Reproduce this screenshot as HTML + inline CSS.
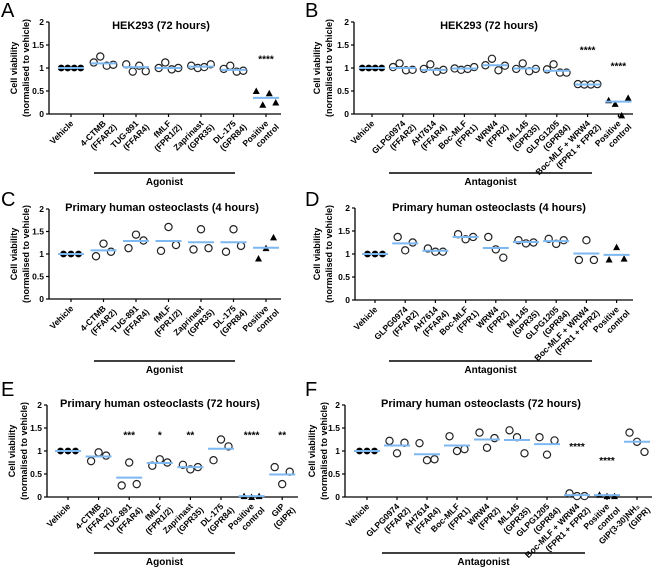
<!DOCTYPE html>
<html><head><meta charset="utf-8"><style>
html,body{margin:0;padding:0;background:#fff;}
svg{display:block;font-family:"Liberation Sans",Arial,sans-serif;}
</style></head><body>
<svg id="fig" width="661" height="570" viewBox="0 0 661 570"></svg>
<script>
// ---- data ----
const catsAgonistA = [["Vehicle"],["4-CTMB","(FFAR2)"],["TUG-891","(FFAR4)"],["fMLF","(FPR1/2)"],["Zaprinast","(GPR35)"],["DL-175","(GPR84)"],["Positive","control"]];
const catsAntagonist = [["Vehicle"],["GLPG0974","(FFAR2)"],["AH7614","(FFAR4)"],["Boc-MLF","(FPR1)"],["WRW4","(FPR2)"],["ML145","(GPR35)"],["GLPG1205","(GPR84)"],["Boc-MLF + WRW4","(FPR1 + FPR2)"],["Positive","control"]];
const catsAgonistE = [["Vehicle"],["4-CTMB","(FFAR2)"],["TUG-891","(FFAR4)"],["fMLF","(FPR1/2)"],["Zaprinast","(GPR35)"],["DL-175","(GPR84)"],["Positive","control"],["GIP","(GIPR)"]];
const catsAntagonistF = [["Vehicle"],["GLPG0974","(FFAR2)"],["AH7614","(FFAR4)"],["Boc-MLF","(FPR1)"],["WRW4","(FPR2)"],["ML145","(GPR35)"],["GLPG1205","(GPR84)"],["Boc-MLF + WRW4","(FPR1 + FPR2)"],["Positive","control"],["GIP(3-30)NH\u2082","(GIPR)"]];
const yTicks = [0,0.5,1,1.5,2];
const yTickLabels = ["0","0.5","1","1.5","2"];

const valuesA = [[1,1,1,1],[1.12,1.25,1.05,1.07],[1.08,0.92,1.05,0.93],[1.0,1.12,0.97,1.0],[1.05,1.0,1.02,1.08],[0.98,1.05,0.92,0.94],[0.5,0.2,0.45,0.25]];
const meansA = [1,1.10,1.02,1.0,1.03,0.96,0.35];
const starsA = [null,null,null,null,null,null,"****"];
const starYA = [0,0,0,0,0,0,1.25];

const valuesB = [[1,1,1,1],[1.02,1.1,0.95,0.96],[0.98,1.08,0.92,0.96],[0.99,0.96,0.98,1.02],[1.06,1.2,0.95,1.05],[0.98,1.1,0.93,0.98],[0.97,1.08,0.9,0.9],[0.65,0.64,0.64,0.65],[0.3,0.22,-0.03,0.35]];
const meansB = [1,1.0,0.96,0.99,1.06,0.99,0.94,0.64,0.27];
const starsB = [null,null,null,null,null,null,null,"****","****"];
const starYB = [0,0,0,0,0,0,0,1.45,1.1];

const valuesC = [[1,1,1],[0.95,1.23,1.05],[1.13,1.43,1.3],[1.07,1.6,1.2],[1.1,1.55,1.13],[1.05,1.55,1.18],[0.9,1.13,1.37]];
const meansC = [1,1.08,1.29,1.29,1.26,1.26,1.14];

const valuesD = [[1,1,1],[1.37,1.08,1.25],[1.12,1.05,1.05],[1.43,1.32,1.37],[1.37,1.1,0.92],[1.3,1.23,1.25],[1.33,1.22,1.3],[0.87,1.3,0.87],[0.88,1.15,0.9]];
const meansD = [1,1.23,1.07,1.37,1.13,1.26,1.28,1.01,0.98];

const valuesE = [[1,1,1],[0.78,0.97,0.9],[0.25,0.75,0.28],[0.68,0.82,0.75],[0.7,0.6,0.65],[0.8,1.25,1.1],[0.02,0.0,0.02],[0.65,0.28,0.55]];
const meansE = [1,0.88,0.42,0.74,0.65,1.05,0.02,0.49];
const starsE = [null,null,"***","*","**",null,"****","**"];
const starYE = [0,0,1.4,1.4,1.4,0,1.4,1.4];

const valuesF = [[1,1,1],[1.22,0.95,1.18],[1.17,0.8,0.82],[1.32,1.0,1.04],[1.4,1.07,1.28],[1.45,1.3,0.95],[1.3,0.92,1.23],[0.08,0.02,0.02],[0.05,0.02,0.02],[1.4,1.2,0.98]];
const meansF = [1,1.12,0.93,1.12,1.25,1.24,1.15,0.04,0.04,1.2];
const starsF = [null,null,null,null,null,null,null,"****","****",null];
const starYF = [0,0,0,0,0,0,0,1.15,0.85,0];

// ---- drawing ----
const NS="http://www.w3.org/2000/svg";
const svg=document.getElementById('fig');
function mk(tag,attrs,parent,text){const e=document.createElementNS(NS,tag);for(const k in attrs)e.setAttribute(k,attrs[k]);if(text!==undefined)e.textContent=text;(parent||svg).appendChild(e);return e;}

function panel(p){
  const g=mk('g',{});
  
  
  const yS=v=>p.y0+(p.y2-p.y0)*v/2;
  const xS=i=>p.first+i*p.step;
  const lt=mk('text',{x:p.lx,y:p.ly,'font-size':20,fill:'#000'},g,p.letter);
  
  
  const t=mk('text',{x:p.tx,y:p.ty,'font-size':11,'font-weight':'bold','text-anchor':'middle'},g,p.title);
  
  
  const yl=mk('text',{transform:`translate(${p.ylx},${(p.y0+p.y2)/2}) rotate(-90)`,'font-size':9,'font-weight':'bold','text-anchor':'middle'},g);
  
  
  mk('tspan',{x:0,y:0},yl,'Cell viability');
  mk('tspan',{x:0,y:12},yl,'(normalised to vehicle)');
  const ya=mk('line',{x1:p.ax,x2:p.ax,y1:p.y2,y2:p.y0,stroke:'#000','stroke-width':1.3},g);
  
  
  const xa=mk('line',{x1:p.ax,x2:p.end,y1:p.y0,y2:p.y0,stroke:'#000','stroke-width':1.3},g);
  
  
  yTicks.forEach((v,i)=>{
    mk('line',{x1:p.ax-3,x2:p.ax,y1:yS(v),y2:yS(v),stroke:'#000','stroke-width':1.2},g);
    const tl=mk('text',{x:p.ax-5,y:yS(v)+3,'font-size':8.5,'font-weight':'bold','text-anchor':'end'},g,yTickLabels[i]);
    
    
  });
  p.cats.forEach((c,i)=>{
    const x=xS(i);
    mk('line',{x1:x,x2:x,y1:p.y0,y2:p.y0+3,stroke:'#000','stroke-width':1.2},g);
    const tx=mk('text',{transform:`translate(${x+3},${p.y0+10}) rotate(-45)`,'font-size':8.5,'font-weight':'bold','text-anchor':'end'},g);
    
    
    c.forEach((s,k)=>mk('tspan',{x:k?5:0,y:k*10},tx,s));
    const vals=p.values[i];
    const n=vals.length;
    vals.forEach((v,k)=>{
      const off=(k-(n-1)/2)*(n===4?6.5:7.5);
      let m;
      if(i===0){m=mk('circle',{cx:x+off,cy:yS(v),r:3.4,fill:'#000'},g);}
      else if(p.tri&&p.tri.includes(i)){const cx=x+off,cy=yS(v);m=mk('polygon',{points:`${cx},${cy-3.5} ${cx-3.5},${cy+3} ${cx+3.5},${cy+3}`,fill:'#000'},g);}
      else {m=mk('circle',{cx:x+off,cy:yS(v),r:3.6,fill:'#fff',stroke:'#222','stroke-width':1.2},g);}
      
      
    });
    const ml=mk('line',{x1:x-13,x2:x+13,y1:yS(p.means[i]),y2:yS(p.means[i]),stroke:'#7db8f0','stroke-width':2},g);
    
    
    if(p.stars&&p.stars[i]){
      const st=mk('text',{x:x,y:yS(p.starY[i])+6,'font-size':10,'font-weight':'bold','text-anchor':'middle'},g,p.stars[i]);
      
      
    }
  });
  const gl=mk('line',{x1:p.gx1,x2:p.gx2,y1:p.gy,y2:p.gy,stroke:'#000','stroke-width':1.6},g);
  
  
  const gt=mk('text',{x:(p.gx1+p.gx2)/2,y:p.gy+12,'font-size':10,'font-weight':'bold','text-anchor':'middle'},g,p.group);
  
  
}

panel({letter:'A',lx:1,ly:17,title:'HEK293 (72 hours)',tx:161,ty:29,ylx:17,ax:49,y0:114,y2:22,first:71,step:32.5,end:281,cats:catsAgonistA,values:valuesA,means:meansA,tri:[6],stars:starsA,starY:starYA,gx1:94,gx2:235,gy:173,group:'Agonist'});
panel({letter:'B',lx:305,ly:17,title:'HEK293 (72 hours)',tx:489,ty:29,ylx:320,ax:354,y0:114,y2:22,first:372,step:30.8,end:633,cats:catsAntagonist,values:valuesB,means:meansB,tri:[8],stars:starsB,starY:starYB,gx1:389,gx2:592,gy:173,group:'Antagonist'});
panel({letter:'C',lx:1,ly:206,title:'Primary human osteoclasts (4 hours)',tx:162,ty:211,ylx:17,ax:49,y0:299,y2:209,first:71,step:32.5,end:281,cats:catsAgonistA,values:valuesC,means:meansC,tri:[6],gx1:94,gx2:235,gy:361,group:'Agonist'});
panel({letter:'D',lx:305,ly:206,title:'Primary human osteoclasts (4 hours)',tx:489,ty:211,ylx:320,ax:355,y0:300,y2:208,first:375,step:30.2,end:633,cats:catsAntagonist,values:valuesD,means:meansD,tri:[8],gx1:389,gx2:592,gy:361,group:'Antagonist'});
panel({letter:'E',lx:1,ly:396,title:'Primary human osteoclasts (72 hours)',tx:160,ty:407,ylx:15,ax:47,y0:497,y2:405,first:68,step:30.6,end:298,cats:catsAgonistE,values:valuesE,means:meansE,tri:[6],stars:starsE,starY:starYE,gx1:94,gx2:235,gy:553,group:'Agonist'});
panel({letter:'F',lx:305,ly:396,title:'Primary human osteoclasts (72 hours)',tx:481,ty:407,ylx:315,ax:345,y0:497,y2:405,first:367,step:30,end:652,cats:catsAntagonistF,values:valuesF,means:meansF,tri:[8],stars:starsF,starY:starYF,gx1:382,gx2:585,gy:553,group:'Antagonist'});
</script>
</body></html>
